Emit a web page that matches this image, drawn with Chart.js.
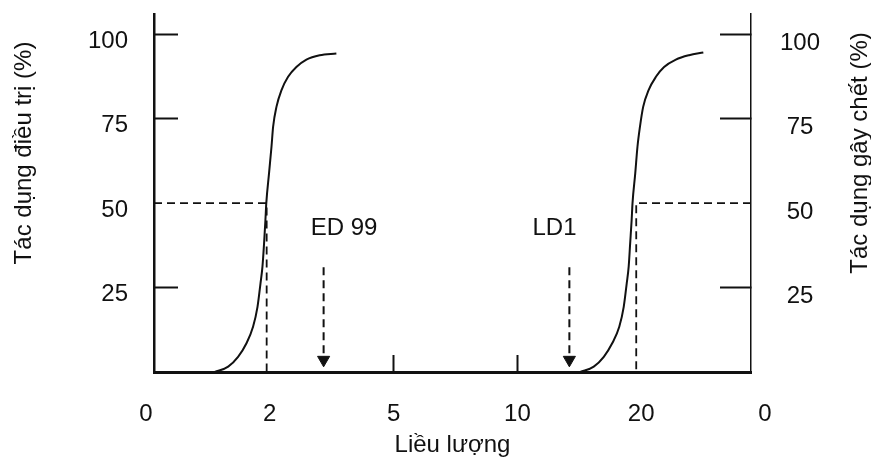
<!DOCTYPE html>
<html lang="vi">

<head>
    <meta charset="UTF-8">
    <title>Liều lượng - tác dụng</title>
    <script src="https://cdn.jsdelivr.net/npm/chart.js"></script>
    <style>
        body { margin: 0; background: #fff; }
        .grafico { width: 871px; height: 460px; }
    </style>
</head>

<body>
    <div class="grafico">
        <canvas id="myChart" width="871" height="460"></canvas>
    </div>
</body>
<script>
    // x axis is in "label slots": 0 -> "0", 1 -> "2", 2 -> "5" ...
    const doseLabels = ['0', '2', '5', '10', '20', '0'];
    const minorTickLabels = ['5', '10'];
    const effectTicks = [25, 50, 75, 100];
    const axisTitles = ['Tác dụng điều trị (%)', 'Tác dụng gây chết (%)'];

    // duong cong tac dung dieu tri
    const therapeuticDose = [0.556, 0.664, 0.744, 0.812, 0.865, 0.901, 0.925, 0.941, 0.954, 0.965, 0.972,
        0.994, 1.014, 1.027, 1.054, 1.094, 1.148, 1.215, 1.296, 1.403, 1.538];
    const therapeuticEffect = [0, 1.6, 4.5, 8.5, 13.4, 19.3, 26.2, 31.2, 38.1, 45, 50,
        58.8, 66.7, 72.6, 78.5, 83.4, 87.4, 90.3, 92.5, 93.8, 94.3];

    // duong cong tac dung gay chet
    const lethalDose = [3.508, 3.617, 3.698, 3.766, 3.823, 3.859, 3.883, 3.899, 3.911, 3.923, 3.930,
        3.952, 3.970, 3.990, 4.016, 4.059, 4.119, 4.185, 4.280, 4.387, 4.502];
    const lethalEffect = [0, 1.6, 4.5, 8.5, 13.4, 19.3, 26.2, 31.2, 38.1, 45, 50,
        58.8, 66.7, 72.6, 78.5, 83.4, 87.4, 90.3, 92.5, 93.8, 94.6];

    const halfDose = [0.975, 3.96];         // ED50, LD50
    const arrowDose = [1.435, 3.42];        // ED 99, LD1
    const arrowNames = ['ED 99', 'LD1'];
    const arrowNameDose = [1.6, 3.3];
    const arrowTop = 31;
    const arrowTip = 3.6;
    const arrowNameLevel = 42.6;

    const xMin = 0.065;
    const xMax = 4.887;

    const fonte = { family: "'Liberation Sans', Arial, sans-serif", size: 24 };
    const preto = '#111';

    function pontos(xs, ys) {
        return xs.map((x, i) => ({ x: x, y: ys[i] }));
    }

    const tracejado = {
        borderColor: preto,
        borderWidth: 1.8,
        borderDash: [8, 5],
        pointRadius: 0,
        tension: 0
    };

    const datasets = [
        {
            label: 'Tác dụng điều trị',
            data: pontos(therapeuticDose, therapeuticEffect),
            borderColor: preto,
            borderWidth: 2,
            pointRadius: 0,
            cubicInterpolationMode: 'monotone'
        },
        {
            label: 'Tác dụng gây chết',
            data: pontos(lethalDose, lethalEffect),
            yAxisID: 'y2',
            borderColor: preto,
            borderWidth: 2,
            pointRadius: 0,
            cubicInterpolationMode: 'monotone'
        },
        Object.assign({
            label: 'ED50',
            data: [{ x: xMin, y: 50 }, { x: halfDose[0], y: 50 }, { x: halfDose[0], y: 0 }]
        }, tracejado),
        Object.assign({
            label: 'LD50',
            yAxisID: 'y2',
            data: [{ x: xMax, y: 50 }, { x: halfDose[1], y: 50 }, { x: halfDose[1], y: 0 }]
        }, tracejado)
    ];

    arrowDose.forEach(function (d, i) {
        datasets.push({
            label: arrowNames[i],
            data: [{ x: d, y: arrowTop }, { x: d, y: arrowTip }],
            borderColor: preto,
            borderWidth: 2,
            borderDash: [8, 5],
            pointRadius: [0, 7],
            pointStyle: 'triangle',
            pointRotation: 180,
            pointBackgroundColor: preto,
            pointBorderColor: preto,
            pointBorderWidth: 1,
            tension: 0
        });
    });

    // chu "ED 99", "LD1" va tieu de hai truc doc (ca hai doc tu duoi len)
    const nhanMuiTen = {
        id: 'nhanMuiTen',
        afterDatasetsDraw(chart) {
            const ctx = chart.ctx;
            const sx = chart.scales.x;
            const sy = chart.scales.y;
            const area = chart.chartArea;
            ctx.save();
            ctx.font = `${fonte.size}px ${fonte.family}`;
            ctx.fillStyle = preto;
            ctx.textAlign = 'center';
            ctx.textBaseline = 'middle';
            arrowNames.forEach(function (nome, i) {
                ctx.fillText(nome, sx.getPixelForValue(arrowNameDose[i]), sy.getPixelForValue(arrowNameLevel));
            });

            const meioY = (area.top + area.bottom) / 2 - 40;
            const posX = [24, chart.width - 11];
            axisTitles.forEach(function (t, i) {
                ctx.save();
                ctx.translate(posX[i], meioY);
                ctx.rotate(-Math.PI / 2);
                ctx.fillText(t, 0, 0);
                ctx.restore();
            });
            ctx.restore();
        }
    };

    function semPadding(s) {
        s.paddingTop = 0;
        s.paddingBottom = 0;
        s.paddingLeft = 0;
        s.paddingRight = 0;
    }

    function ticksY(s) {
        s.ticks = effectTicks.map(v => ({ value: v }));
    }

    function corTickY(ctx) {
        return ctx.tick && ctx.tick.value === 50 ? 'rgba(0,0,0,0)' : preto;
    }

    const config = {
        type: 'line',
        data: { datasets: datasets },
        plugins: [nhanMuiTen],
        options: {
            responsive: false,
            animation: false,
            layout: { padding: { top: 14, left: 0, right: 0, bottom: 0 } },
            plugins: {
                legend: { display: false },
                tooltip: { enabled: false }
            },
            scales: {
                x: {
                    type: 'linear',
                    min: xMin,
                    max: xMax,
                    bounds: 'data',
                    afterBuildTicks: s => { s.ticks = doseLabels.map((_, i) => ({ value: i })); },
                    afterFit: s => { s.height = 88; semPadding(s); },
                    ticks: {
                        autoSkip: false,
                        maxRotation: 0,
                        padding: 45,
                        font: fonte,
                        color: preto,
                        callback: v => doseLabels[v]
                    },
                    grid: {
                        drawOnChartArea: false,
                        tickLength: -17,
                        tickWidth: 2,
                        tickColor: ctx => ctx.tick && minorTickLabels.includes(doseLabels[ctx.tick.value]) ? preto : 'rgba(0,0,0,0)'
                    },
                    border: { color: preto, width: 3 },
                    title: { display: true, text: 'Liều lượng', font: fonte, color: preto, padding: { top: 0, bottom: 0 } }
                },
                y: {
                    position: 'left',
                    min: 0,
                    max: 106,
                    bounds: 'data',
                    afterBuildTicks: ticksY,
                    afterFit: s => { s.width = 154; semPadding(s); },
                    ticks: { padding: 50, labelOffset: 7, crossAlign: 'near', font: fonte, color: preto },
                    grid: { drawOnChartArea: false, tickLength: -24, tickWidth: 2, tickColor: corTickY },
                    border: { color: preto, width: 2.5 },
                    title: { display: false }
                },
                y2: {
                    position: 'right',
                    min: 0,
                    max: 106,
                    bounds: 'data',
                    afterBuildTicks: ticksY,
                    afterFit: s => { s.width = 120; semPadding(s); },
                    ticks: { padding: 60, labelOffset: 9, crossAlign: 'center', font: fonte, color: preto },
                    grid: { drawOnChartArea: false, tickLength: -31, tickWidth: 2, tickColor: corTickY },
                    border: { color: preto, width: 1.5 },
                    title: { display: false }
                }
            }
        }
    };

    let myChart = new Chart(document.getElementById('myChart'), config);
</script>

</html>
